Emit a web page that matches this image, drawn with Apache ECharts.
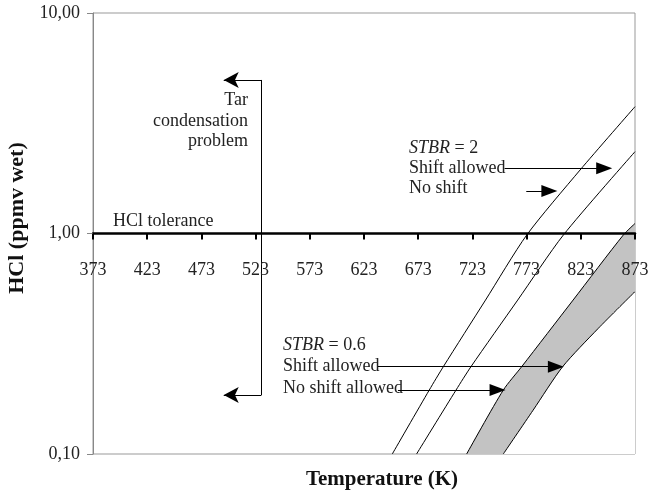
<!DOCTYPE html>
<html><head><meta charset="utf-8">
<script src="https://cdn.jsdelivr.net/npm/echarts@6/dist/echarts.min.js"></script>
<style>html,body{margin:0;padding:0;background:#fff}#c{width:653px;height:498px}</style>
</head><body><div id="c"></div>
<script>
// ---- data ----
const tempTicks = [373, 423, 473, 523, 573, 623, 673, 723, 773, 823, 873];
const hclTicks = [0.1, 1, 10];
const tarLimitT = 528.3;

const stbr2NoShiftT   = [649.1, 683.2, 696.2, 735.1, 773.1, 822.3, 873];
const stbr2NoShiftHCl = [0.10, 0.195, 0.249, 0.499, 0.984, 1.94, 3.76];
const stbr2ShiftT     = [671.5, 707.9, 721.7, 764.8, 806.9, 873];
const stbr2ShiftHCl   = [0.10, 0.195, 0.249, 0.499, 0.984, 2.35];
const stbr06NoShiftT   = [717.7, 751.5, 768.5, 815.9, 862.2, 873];
const stbr06NoShiftHCl = [0.10, 0.195, 0.249, 0.499, 0.984, 1.11];
const stbr06ShiftT     = [751.5, 779, 806.3, 838.8, 873];
const stbr06ShiftHCl   = [0.10, 0.158, 0.249, 0.37, 0.545];

// ---- chart ----
const FONT = 'Liberation Serif';
const zip = (a, b) => a.map((x, i) => [x, b[i]]);
const chart = echarts.init(document.getElementById('c'), null, {renderer: 'canvas'});

function lineSeries(name, T, H, area) {
  const s = {
    name, type: 'line', data: zip(T, H), showSymbol: false, smooth: 0.25,
    lineStyle: {color: '#000', width: 1}, z: 3, silent: true, animation: false
  };
  if (area) s.areaStyle = {color: area, opacity: 1, origin: 'start'};
  return s;
}
function arrowSeries(sym, size, lines) {
  return {
    type: 'line', data: [], silent: true, animation: false, z: 5,
    markLine: {
      silent: true, animation: false, symbol: ['none', sym], symbolSize: size,
      label: {show: false}, emphasis: {disabled: true},
      lineStyle: {color: '#000', width: 1, type: 'solid'},
      data: lines.map(l => [{coord: l[0]}, {coord: l[1]}])
    }
  };
}

const option = {
  animation: false,
  backgroundColor: '#fff',
  grid: {left: 93, top: 13, right: 18, bottom: 44, show: true, borderColor: '#999', borderWidth: 1},
  xAxis: {
    type: 'value', min: 373, max: 873, position: 'bottom', offset: -220.5, z: 10,
    axisLine: {show: true, onZero: false, lineStyle: {color: '#000', width: 2.5}},
    axisTick: {show: true, customValues: tempTicks, length: 6, lineStyle: {color: '#000', width: 2}},
    axisLabel: {customValues: tempTicks, margin: 28, fontFamily: FONT, fontSize: 18, color: '#222'},
    splitLine: {show: false}
  },
  yAxis: {
    type: 'log', logBase: 10, min: hclTicks[0], max: hclTicks[hclTicks.length - 1], z: 10,
    axisLine: {show: true, lineStyle: {color: '#888', width: 1}},
    axisTick: {show: true, length: 6, lineStyle: {color: '#888'}},
    minorTick: {show: false}, splitLine: {show: false},
    axisLabel: {margin: 13, fontFamily: FONT, fontSize: 18, color: '#222',
      formatter: v => Number(v).toFixed(2).replace('.', ',')}
  },
  graphic: [
    {type: 'text', x: 17, y: 218, rotation: Math.PI / 2,
      style: {text: 'HCl (ppmv wet)', font: 'bold 22px "Liberation Serif"', fill: '#111', align: 'center', verticalAlign: 'middle'}},
    {type: 'text', x: 382, y: 480,
      style: {text: 'Temperature (K)', font: 'bold 21px "Liberation Serif"', fill: '#111', align: 'center', verticalAlign: 'middle'}},
    {type: 'text', x: 113, y: 221,
      style: {text: 'HCl tolerance', font: '18px "Liberation Serif"', fill: '#222', align: 'left', verticalAlign: 'middle'}},
    {type: 'text', x: 248, y: 121,
      style: {text: 'Tar\ncondensation\nproblem', font: '18px "Liberation Serif"', lineHeight: 20.5, fill: '#222', align: 'right', verticalAlign: 'middle'}},
    {type: 'text', x: 409, y: 148,
      style: {text: '{i|STBR} = 2', font: '18px "Liberation Serif"', fill: '#222', verticalAlign: 'middle',
        rich: {i: {fontStyle: 'italic', fontFamily: FONT, fontSize: 18}}}},
    {type: 'text', x: 409, y: 168,
      style: {text: 'Shift allowed', font: '18px "Liberation Serif"', fill: '#222', verticalAlign: 'middle'}},
    {type: 'text', x: 409, y: 188,
      style: {text: 'No shift', font: '18px "Liberation Serif"', fill: '#222', verticalAlign: 'middle'}},
    {type: 'text', x: 283, y: 345,
      style: {text: '{i|STBR} = 0.6', font: '18px "Liberation Serif"', fill: '#222', verticalAlign: 'middle',
        rich: {i: {fontStyle: 'italic', fontFamily: FONT, fontSize: 18}}}},
    {type: 'text', x: 283, y: 366.5,
      style: {text: 'Shift allowed', font: '18px "Liberation Serif"', fill: '#222', verticalAlign: 'middle'}},
    {type: 'text', x: 283, y: 388,
      style: {text: 'No shift allowed', font: '18px "Liberation Serif"', fill: '#222', verticalAlign: 'middle'}}
  ],
  series: [
    lineSeries('STBR=2 no shift', stbr2NoShiftT, stbr2NoShiftHCl),
    lineSeries('STBR=2 shift allowed', stbr2ShiftT, stbr2ShiftHCl),
    // grey band between the two STBR=0.6 curves: grey under the upper curve, white under the lower one
    lineSeries('STBR=0.6 no shift', stbr06NoShiftT, stbr06NoShiftHCl, '#c3c3c3'),
    lineSeries('STBR=0.6 shift allowed', stbr06ShiftT, stbr06ShiftHCl, '#ffffff'),
    arrowSeries('triangle', [12, 16], [
      [[752.7, 1.976], [844.6, 1.976]],
      [[772.7, 1.56], [794, 1.56]],
      [[635.9, 0.249], [800, 0.249]],
      [[654.3, 0.195], [746.2, 0.195]]
    ]),
    arrowSeries('arrow', [12, 15], [
      [[tarLimitT, 4.97], [493.6, 4.97]],
      [[tarLimitT, 0.185], [493.6, 0.185]]
    ]),
    arrowSeries('none', 0, [
      [[tarLimitT, 4.97], [tarLimitT, 0.185]]
    ])
  ]
};
chart.setOption(option);
</script>
</body></html>
